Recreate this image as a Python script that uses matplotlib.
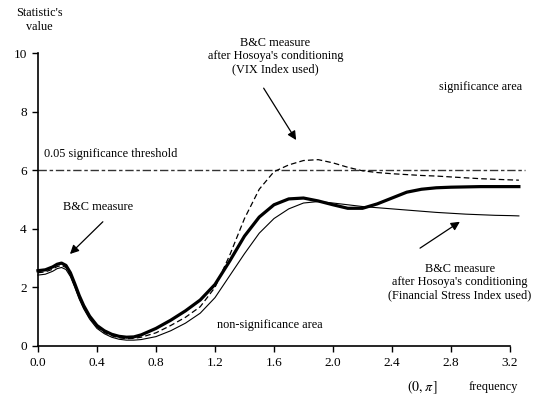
import numpy as np
import matplotlib
matplotlib.use('Agg')
import matplotlib.pyplot as plt

plt.rcParams['font.family'] = ['Liberation Serif', 'DejaVu Serif']
plt.rcParams['mathtext.fontset'] = 'stix'

freq = [0.00, 0.05, 0.10, 0.13, 0.16, 0.19, 0.22, 0.25, 0.28, 0.31, 0.35,
        0.40, 0.45, 0.50, 0.55, 0.60, 0.65, 0.70, 0.80, 0.90, 1.00, 1.10,
        1.20, 1.30, 1.40, 1.50, 1.60, 1.70, 1.80, 1.90, 2.00, 2.10, 2.20,
        2.30, 2.40, 2.50, 2.60, 2.70, 2.80, 2.90, 3.00, 3.10, 3.20, 3.26]

# B&C measure
bc = [2.57, 2.60, 2.70, 2.79, 2.83, 2.75, 2.50, 2.12, 1.72, 1.38, 1.02,
      0.70, 0.52, 0.40, 0.33, 0.30, 0.31, 0.38, 0.60, 0.88, 1.20, 1.57,
      2.10, 2.90, 3.75, 4.40, 4.82, 5.02, 5.05, 4.95, 4.82, 4.70, 4.70,
      4.85, 5.05, 5.25, 5.35, 5.40, 5.42, 5.43, 5.44, 5.44, 5.44, 5.44]

# after Hosoya's conditioning, VIX
bc_vix = [2.50, 2.53, 2.62, 2.71, 2.75, 2.68, 2.43, 2.05, 1.65, 1.32, 0.97,
          0.65, 0.46, 0.35, 0.28, 0.25, 0.26, 0.30, 0.45, 0.70, 0.98, 1.34,
          2.00, 3.10, 4.35, 5.35, 5.95, 6.18, 6.33, 6.36, 6.25, 6.10, 5.98,
          5.92, 5.88, 5.85, 5.82, 5.80, 5.77, 5.74, 5.71, 5.69, 5.67, 5.66]

# after Hosoya's conditioning, Financial Stress Index
bc_fsi = [2.42, 2.45, 2.55, 2.64, 2.68, 2.61, 2.37, 2.00, 1.60, 1.27, 0.92,
          0.60, 0.42, 0.30, 0.23, 0.20, 0.20, 0.22, 0.32, 0.52, 0.78, 1.12,
          1.65, 2.40, 3.15, 3.85, 4.35, 4.68, 4.88, 4.93, 4.88, 4.82, 4.76,
          4.72, 4.68, 4.64, 4.60, 4.56, 4.53, 4.50, 4.48, 4.46, 4.45, 4.44]

soglia = 6.0

fig = plt.figure(figsize=(5.42, 4.0), dpi=100)
ax = fig.add_axes([0.070, 0.135, 0.871, 0.7325])

ax.plot([0, 3.3], [soglia, soglia], color='#333333', lw=1.0,
        dashes=(6, 2, 2.5, 2), clip_on=False)
ax.plot(freq, bc_fsi, color='black', lw=0.8, clip_on=False)
ax.plot(freq, bc_vix, color='black', lw=0.9, dashes=(4.5, 2.5), clip_on=False)
ax.plot(freq, bc, color='black', lw=2.3, clip_on=False)

ax.set_xlim(0, 3.2)
ax.set_ylim(0, 10)
ax.set_xticks(np.arange(0, 3.21, 0.4))
ax.set_xticklabels(['%.1f' % v for v in np.arange(0, 3.21, 0.4)])
ax.set_yticks([0, 2, 4, 6, 8, 10])
for s in ['top', 'right']:
    ax.spines[s].set_visible(False)
for s in ['left', 'bottom']:
    ax.spines[s].set_linewidth(1.2)
ax.tick_params(direction='out', length=4, width=1.0, labelsize=9.5, pad=4)

fs = 8.8
ax.text(0.04, 6.55, '0.05 significance threshold', fontsize=fs, ha='left', va='center')
ax.text(3.0, 8.84, 'significance area', fontsize=fs, ha='center', va='center')
ax.text(1.57, 0.72, 'non-significance area', fontsize=fs, ha='center', va='center')
ax.text(0.41, 4.74, 'B&C measure', fontsize=fs, ha='center', va='center')
ax.text(1.61, 9.9, "B&C measure\nafter Hosoya's conditioning\n(VIX Index used)",
        fontsize=fs, ha='center', va='center', linespacing=1.15)
ax.text(2.86, 2.18, "B&C measure\nafter Hosoya's conditioning\n(Financial Stress Index used)",
        fontsize=fs, ha='center', va='center', linespacing=1.15)

frecce = dict(arrowstyle='-|>', color='black', lw=0.9, mutation_scale=13,
              shrinkA=0, shrinkB=0)
ax.annotate('', xy=(0.217, 3.14), xytext=(0.44, 4.24), arrowprops=frecce)
ax.annotate('', xy=(1.75, 7.03), xytext=(1.53, 8.8), arrowprops=frecce)
ax.annotate('', xy=(2.86, 4.24), xytext=(2.59, 3.34), arrowprops=frecce)

fig.text(0.073, 0.95, "Statistic's\nvalue", fontsize=fs, ha='center', va='center',
         linespacing=1.15)
fig.text(0.78, 0.032, r'$(0,\pi\,]$', fontsize=10, ha='center', va='center')
fig.text(0.865, 0.032, 'frequency', fontsize=fs, ha='left', va='center')

fig.savefig('out.png', dpi=100)
